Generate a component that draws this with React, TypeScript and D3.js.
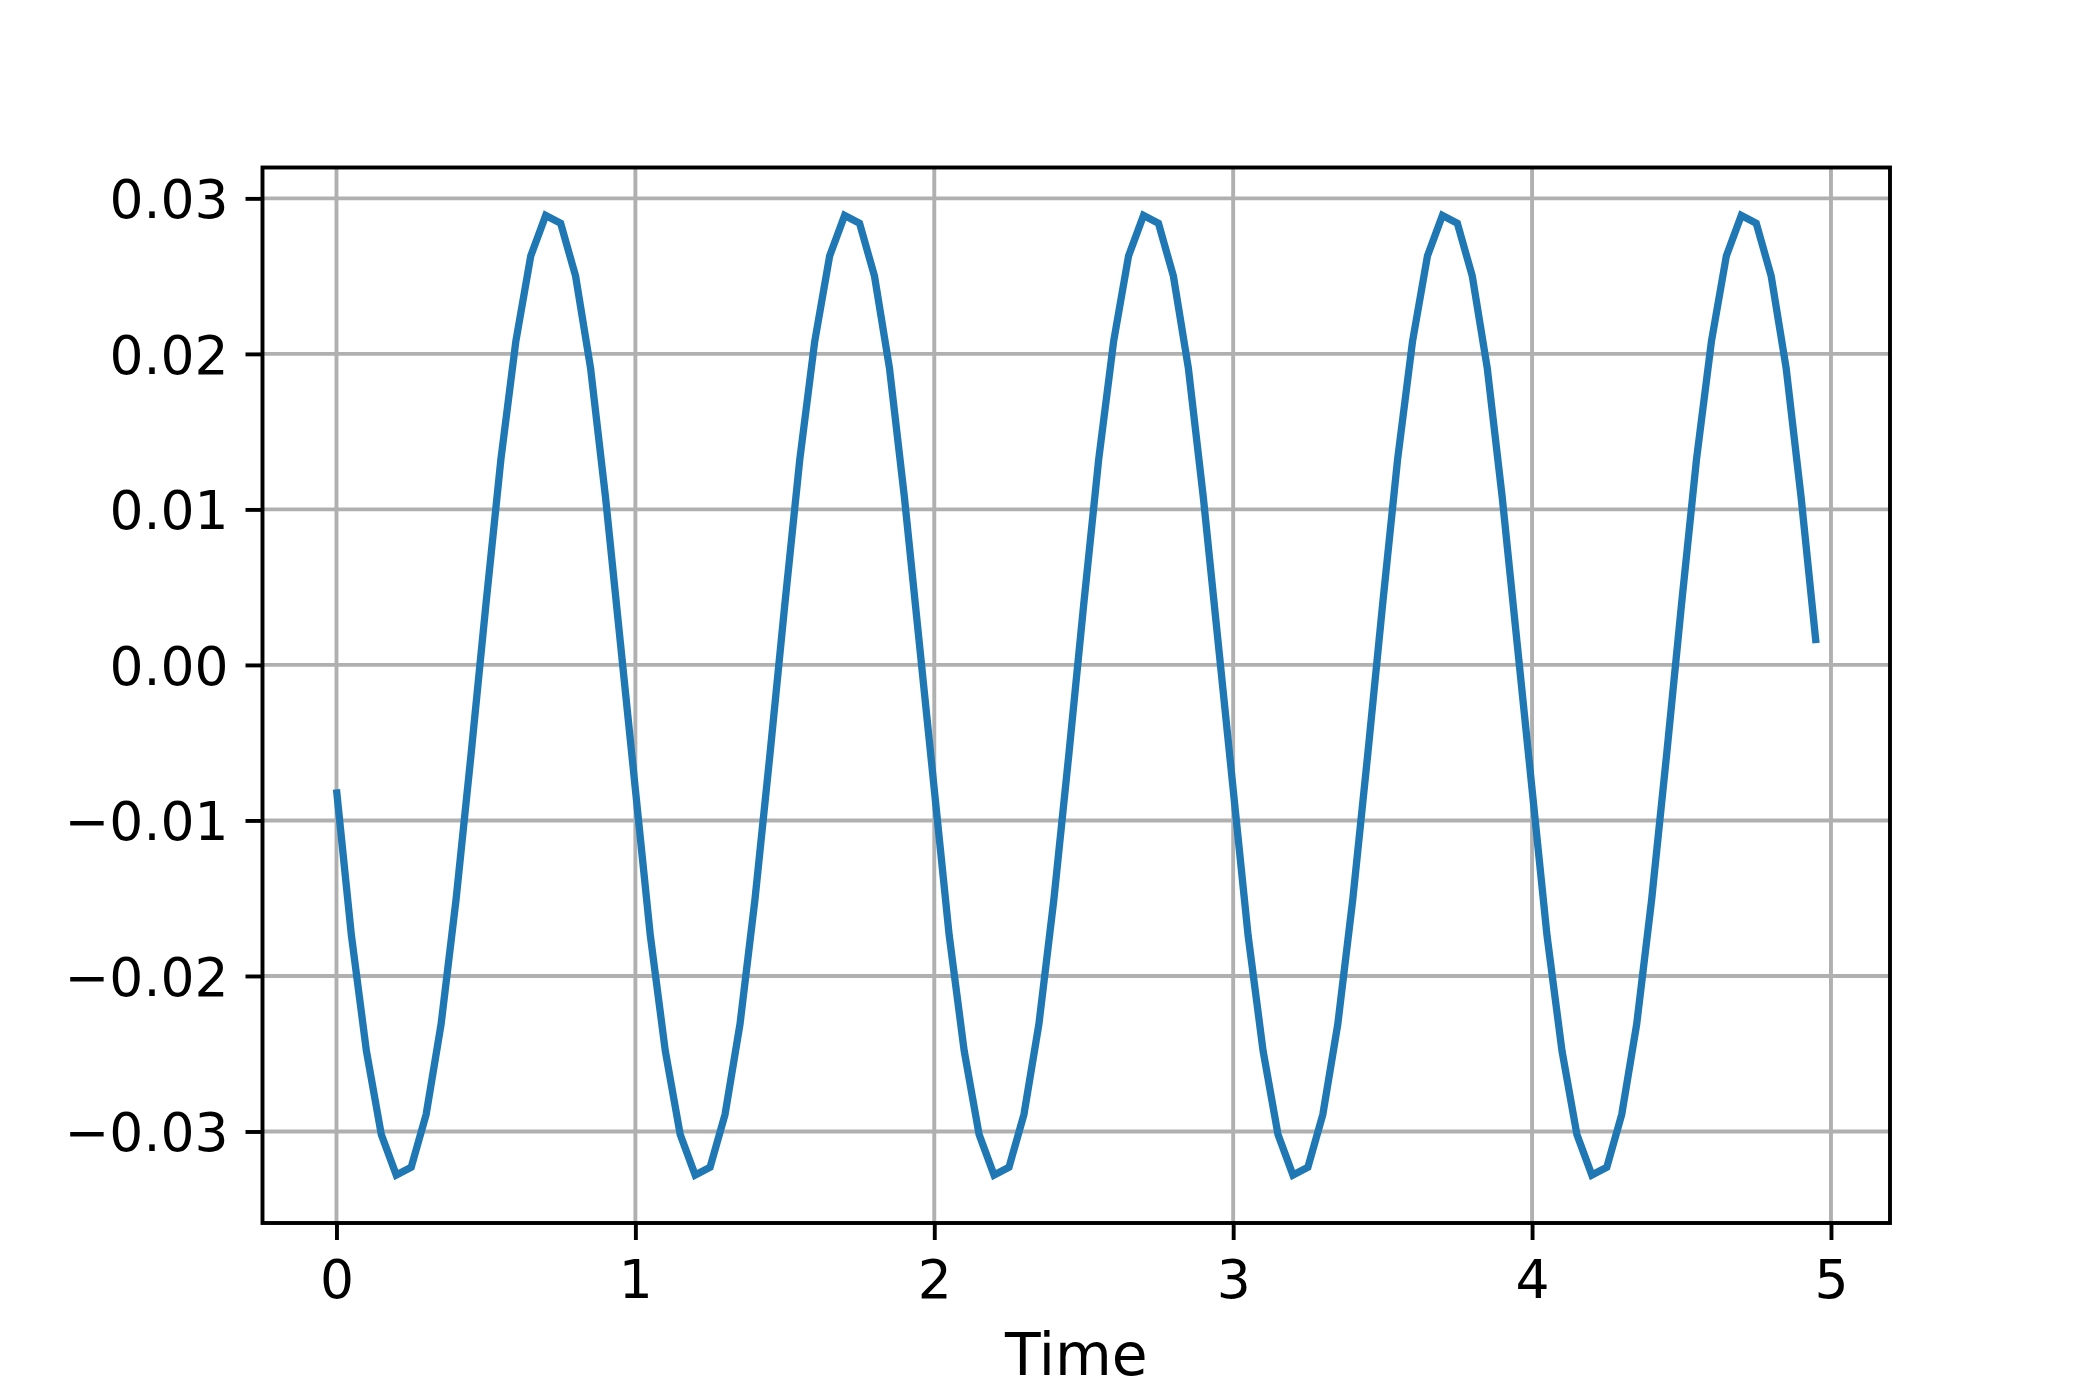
import React, { useEffect, useRef } from 'react';
import * as d3 from 'd3';

// sample times (s), step 0.05
const times = [
  0.0, 0.05, 0.1, 0.15, 0.2, 0.25, 0.3, 0.35, 0.4, 0.45, 0.5, 0.55, 0.6, 0.65, 0.7, 0.75, 0.8, 0.85, 0.9, 0.95,
  1.0, 1.05, 1.1, 1.15, 1.2, 1.25, 1.3, 1.35, 1.4, 1.45, 1.5, 1.55, 1.6, 1.65, 1.7, 1.75, 1.8, 1.85, 1.9, 1.95,
  2.0, 2.05, 2.1, 2.15, 2.2, 2.25, 2.3, 2.35, 2.4, 2.45, 2.5, 2.55, 2.6, 2.65, 2.7, 2.75, 2.8, 2.85, 2.9, 2.95,
  3.0, 3.05, 3.1, 3.15, 3.2, 3.25, 3.3, 3.35, 3.4, 3.45, 3.5, 3.55, 3.6, 3.65, 3.7, 3.75, 3.8, 3.85, 3.9, 3.95,
  4.0, 4.05, 4.1, 4.15, 4.2, 4.25, 4.3, 4.35, 4.4, 4.45, 4.5, 4.55, 4.6, 4.65, 4.7, 4.75, 4.8, 4.85, 4.9, 4.95,
];

// signal values
const signal = [
  -0.008, -0.0174, -0.0248, -0.0302, -0.0328, -0.0323, -0.0289, -0.0231, -0.0151, -0.0058,
  0.0039, 0.0132, 0.0208, 0.0263, 0.0289, 0.0284, 0.025, 0.0191, 0.0108, 0.0014,
  -0.008, -0.0174, -0.0248, -0.0302, -0.0328, -0.0323, -0.0289, -0.0231, -0.0151, -0.0058,
  0.0039, 0.0132, 0.0208, 0.0263, 0.0289, 0.0284, 0.025, 0.0191, 0.0108, 0.0014,
  -0.008, -0.0174, -0.0248, -0.0302, -0.0328, -0.0323, -0.0289, -0.0231, -0.0151, -0.0058,
  0.0039, 0.0132, 0.0208, 0.0263, 0.0289, 0.0284, 0.025, 0.0191, 0.0108, 0.0014,
  -0.008, -0.0174, -0.0248, -0.0302, -0.0328, -0.0323, -0.0289, -0.0231, -0.0151, -0.0058,
  0.0039, 0.0132, 0.0208, 0.0263, 0.0289, 0.0284, 0.025, 0.0191, 0.0108, 0.0014,
  -0.008, -0.0174, -0.0248, -0.0302, -0.0328, -0.0323, -0.0289, -0.0231, -0.0151, -0.0058,
  0.0039, 0.0132, 0.0208, 0.0263, 0.0289, 0.0284, 0.025, 0.0191, 0.0108, 0.0014,
];

const xTicks = [0, 1, 2, 3, 4, 5];
const yTicks = [-0.03, -0.02, -0.01, 0.0, 0.01, 0.02, 0.03];
const xLabel = 'Time';

const W = 2100;
const H = 1400;
const FONT = '"DejaVu Sans", sans-serif';
const TICK_FONT = 53.5;
const LABEL_FONT = 58.3;

const App = () => {
  const svgRef = useRef(null);

  useEffect(() => {
    const svg = d3.select(svgRef.current);
    svg.selectAll('*').remove();

    const left = 262.5, right = 1890, top = 167.5, bottom = 1223;

    // matplotlib-style 5% margins
    const [x0, x1] = d3.extent(times);
    const [y0, y1] = d3.extent(signal);
    const xm = (x1 - x0) * 0.05;
    const ym = (y1 - y0) * 0.05;

    const xScale = d3.scaleLinear().domain([x0 - xm, x1 + xm]).range([left, right]);
    const yScale = d3.scaleLinear().domain([y0 - ym, y1 + ym]).range([bottom, top]);

    svg.append('rect')
      .attr('width', W)
      .attr('height', H)
      .attr('fill', 'white');

    // grid
    const grid = svg.append('g').attr('stroke', '#b0b0b0').attr('stroke-width', 3.9);
    xTicks.forEach(t => {
      grid.append('line')
        .attr('x1', xScale(t)).attr('x2', xScale(t))
        .attr('y1', top).attr('y2', bottom);
    });
    yTicks.forEach(t => {
      grid.append('line')
        .attr('x1', left).attr('x2', right)
        .attr('y1', yScale(t)).attr('y2', yScale(t));
    });

    const line = d3.line()
      .x((d, i) => xScale(times[i]))
      .y(d => yScale(d));

    svg.append('path')
      .datum(signal)
      .attr('fill', 'none')
      .attr('stroke', '#1f77b4')
      .attr('stroke-width', 7.3)
      .attr('stroke-linejoin', 'miter')
      .attr('stroke-linecap', 'butt')
      .attr('d', line);

    // x axis
    const xAxis = svg.append('g')
      .attr('transform', `translate(0, ${bottom})`)
      .call(d3.axisBottom(xScale).tickValues(xTicks).tickSize(17).tickPadding(17).tickFormat(d3.format('d')));
    xAxis.select('.domain').remove();
    xAxis.selectAll('.tick line').attr('stroke', 'black').attr('stroke-width', 3.9);
    xAxis.selectAll('.tick text')
      .attr('font-family', FONT)
      .attr('font-size', TICK_FONT)
      .attr('fill', 'black')
      .attr('dy', '0.76em');

    // y axis
    const yAxis = svg.append('g')
      .attr('transform', `translate(${left}, 0)`)
      .call(d3.axisLeft(yScale).tickValues(yTicks).tickSize(17).tickPadding(17).tickFormat(d3.format('.2f')));
    yAxis.select('.domain').remove();
    yAxis.selectAll('.tick line').attr('stroke', 'black').attr('stroke-width', 3.9);
    yAxis.selectAll('.tick text')
      .attr('font-family', FONT)
      .attr('font-size', TICK_FONT)
      .attr('fill', 'black')
      .attr('dy', '0.36em');

    // spines
    svg.append('rect')
      .attr('x', left).attr('y', top)
      .attr('width', right - left).attr('height', bottom - top)
      .attr('fill', 'none')
      .attr('stroke', 'black')
      .attr('stroke-width', 3.9);

    svg.append('text')
      .attr('x', (left + right) / 2)
      .attr('y', 1375)
      .attr('text-anchor', 'middle')
      .attr('font-family', FONT)
      .attr('font-size', LABEL_FONT)
      .attr('fill', 'black')
      .text(xLabel);
  }, []);

  return (
    <svg
      ref={svgRef}
      width={W}
      height={H}
      style={{ position: 'absolute', left: 0, top: 0, display: 'block' }}
    />
  );
};

export default App;
